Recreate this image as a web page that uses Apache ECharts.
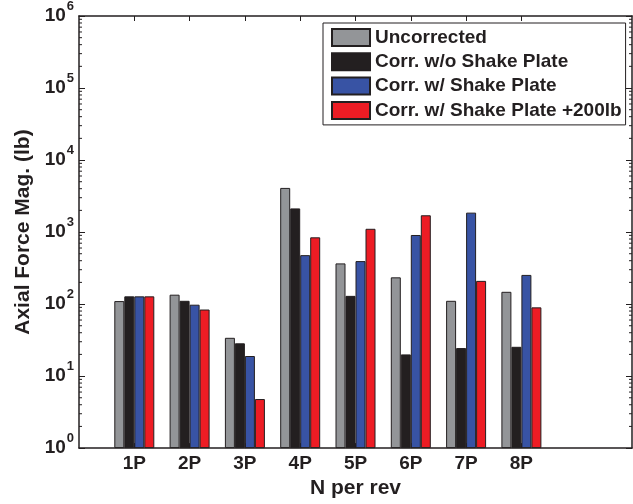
<!DOCTYPE html>
<html>
<head>
<meta charset="utf-8">
<style>
  html, body { margin: 0; padding: 0; background: #ffffff; }
  #chart { width: 633px; height: 504px; }
</style>
<script src="https://cdn.jsdelivr.net/npm/echarts@6/dist/echarts.min.js"></script>
</head>
<body>
<div id="chart"></div>
<script>
// Axial force magnitude per harmonic, four correction variants
const categories = ['1P', '2P', '3P', '4P', '5P', '6P', '7P', '8P'];
const seriesNames = [
  'Uncorrected',
  'Corr. w/o Shake Plate',
  'Corr. w/ Shake Plate',
  'Corr. w/ Shake Plate +200lb'
];
const uncorrected   = [110, 135, 34, 4100, 367, 235, 111, 148];
const corrNoPlate   = [128, 111, 28.5, 2130, 130, 20, 24.5, 25.5];
const corrPlate     = [128, 98, 19, 478, 395, 910, 1860, 254];
const corrPlate200  = [128, 84, 4.8, 845, 1110, 1710, 210, 90];
const yMin = 1;
const yMax = 1e6;

const colors = ['#939598', '#231f20', '#3853a4', '#ed1c24'];
const ink = '#231f20';
const font = '"Liberation Sans", Arial, Helvetica, sans-serif';

// x runs from 0 to 10 with the harmonics at 1..8
const axisCats = [''].concat(categories, ['', '']);
const pad = arr => [null].concat(arr, [null, null]);
const isHarmonic = (i) => i >= 1 && i <= categories.length;

const GRID = { left: 79, right: 1, top: 16, bottom: 52 };

const chart = echarts.init(document.getElementById('chart'), null, { renderer: 'canvas' });

const supLabel = {
  formatter: v => '{b|10}{s|' + Math.round(Math.log10(v)) + '}',
  margin: 5,
  rich: {
    b: { fontSize: 19, fontWeight: 'bold', fontFamily: font, color: ink, lineHeight: 32 },
    s: { fontSize: 13, fontWeight: 'bold', fontFamily: font, color: ink, lineHeight: 14, verticalAlign: 'top', padding: [0, 0, 0, 1] }
  }
};

const allSeries = [uncorrected, corrNoPlate, corrPlate, corrPlate200].map((vals, k) => ({
  name: seriesNames[k],
  type: 'bar',
  data: pad(vals),
  barWidth: 10,
  barGap: '0%',
  itemStyle: { color: colors[k], borderColor: ink, borderWidth: 1 },
  emphasis: { disabled: true },
  animation: false
}));

chart.setOption({
  backgroundColor: '#ffffff',
  animation: false,
  grid: GRID,
  legend: {
    left: 323,
    top: 23,
    orient: 'vertical',
    padding: [5, 4, 5, 8],
    itemGap: 5.3,
    itemWidth: 38,
    itemHeight: 17,
    icon: 'rect',
    selectedMode: false,
    backgroundColor: '#ffffff',
    borderColor: ink,
    borderWidth: 1,
    textStyle: { fontSize: 19, fontWeight: 'bold', fontFamily: font, color: ink, lineHeight: 19 },
    data: seriesNames
  },
  xAxis: [
    {
      type: 'category',
      data: axisCats,
      boundaryGap: false,
      position: 'bottom',
      name: 'N per rev',
      nameLocation: 'middle',
      nameGap: 26,
      nameTextStyle: { fontSize: 21, fontWeight: 'bold', fontFamily: font, color: ink },
      axisLine: { show: true, lineStyle: { color: ink, width: 1.5 } },
      axisTick: { show: true, inside: true, length: 5, interval: (i) => isHarmonic(i), lineStyle: { color: ink, width: 1 } },
      axisLabel: { interval: (i) => isHarmonic(i), margin: 6, fontSize: 19, fontWeight: 'bold', fontFamily: font, color: ink },
      splitLine: { show: false }
    },
    {
      type: 'category',
      data: axisCats,
      boundaryGap: false,
      position: 'top',
      axisLine: { show: true, lineStyle: { color: ink, width: 1.5 } },
      axisTick: { show: true, inside: true, length: 5, interval: (i) => isHarmonic(i), lineStyle: { color: ink, width: 1 } },
      axisLabel: { show: false },
      splitLine: { show: false }
    }
  ],
  yAxis: [
    {
      type: 'log',
      logBase: 10,
      min: yMin,
      max: yMax,
      position: 'left',
      name: 'Axial Force Mag. (lb)',
      nameLocation: 'middle',
      nameGap: 41,
      nameTextStyle: { fontSize: 21, fontWeight: 'bold', fontFamily: font, color: ink },
      axisLine: { show: true, lineStyle: { color: ink, width: 1.5 } },
      axisTick: { show: true, inside: true, length: 6, lineStyle: { color: ink, width: 1 } },
      axisLabel: supLabel,
      splitLine: { show: false }
    },
    {
      type: 'log',
      logBase: 10,
      min: yMin,
      max: yMax,
      position: 'right',
      axisLine: { show: true, lineStyle: { color: ink, width: 1.5 } },
      axisTick: { show: true, inside: true, length: 6, lineStyle: { color: ink, width: 1 } },
      axisLabel: { show: false },
      splitLine: { show: false }
    }
  ],
  series: allSeries
});

// Minor log ticks (2..9 within each decade) on both vertical edges
function drawMinorTicks() {
  const w = chart.getWidth();
  const xl = GRID.left;
  const xr = w - GRID.right;
  const shapes = [];
  for (let e = Math.log10(yMin); e < Math.log10(yMax); e++) {
    for (let m = 2; m <= 9; m++) {
      const y = chart.convertToPixel({ yAxisIndex: 0 }, m * Math.pow(10, e));
      shapes.push({ type: 'line', silent: true, shape: { x1: xl, y1: y, x2: xl + 3, y2: y }, style: { stroke: ink, lineWidth: 1 } });
      shapes.push({ type: 'line', silent: true, shape: { x1: xr - 3, y1: y, x2: xr, y2: y }, style: { stroke: ink, lineWidth: 1 } });
    }
  }
  chart.setOption({ graphic: shapes });
}
drawMinorTicks();
</script>
</body>
</html>
